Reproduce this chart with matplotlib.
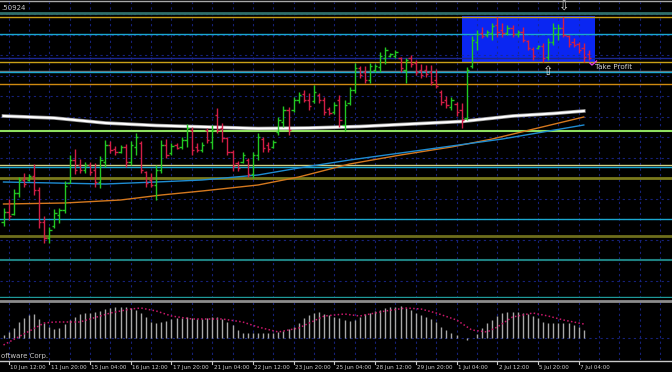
import matplotlib
matplotlib.use("Agg")
import matplotlib.pyplot as plt
from matplotlib.collections import LineCollection
from matplotlib.patches import Rectangle
from matplotlib.lines import Line2D
import numpy as np

# H4 bars (prices)
highs = [1.4886, 1.4895, 1.4905, 1.4917, 1.4921, 1.4920, 1.4930, 1.4907, 1.4878, 1.4867,
         1.4885, 1.4886, 1.4913, 1.4939, 1.4945, 1.4935, 1.4932, 1.4932, 1.4931, 1.4938,
         1.4954, 1.4953, 1.4948, 1.4949, 1.4950, 1.4953, 1.4961, 1.4953, 1.4923, 1.4921,
         1.4929, 1.4954, 1.4955, 1.4951, 1.4951, 1.4957, 1.4970, 1.4967, 1.4951, 1.4952,
         1.4966, 1.4969, 1.4986, 1.4971, 1.4957, 1.4944, 1.4933, 1.4942, 1.4936, 1.4942,
         1.4961, 1.4957, 1.4952, 1.4954, 1.4977, 1.4988, 1.4987, 1.4997, 1.5002, 1.5004,
         1.5001, 1.5009, 1.5001, 1.4997, 1.4987, 1.4992, 1.4999, 1.4994, 1.5007, 1.5031,
         1.5028, 1.5028, 1.5031, 1.5030, 1.5042, 1.5047, 1.5041, 1.5044, 1.5037, 1.5036,
         1.5039, 1.5034, 1.5030, 1.5029, 1.5029, 1.5025, 1.5004, 1.4998, 1.4997, 1.4992,
         1.4991, 1.5027, 1.5058, 1.5064, 1.5067, 1.5064, 1.5071, 1.5077, 1.5071, 1.5069,
         1.5069, 1.5064, 1.5067, 1.5054, 1.5047, 1.5049, 1.5051, 1.5056, 1.5071, 1.5070,
         1.5077, 1.5059, 1.5056, 1.5052, 1.5051, 1.5044]
lows = [1.4868, 1.4874, 1.4879, 1.4897, 1.4907, 1.4913, 1.4899, 1.4866, 1.4851, 1.4851,
        1.4866, 1.4871, 1.4881, 1.4911, 1.4920, 1.4921, 1.4921, 1.4919, 1.4907, 1.4906,
        1.4927, 1.4941, 1.4939, 1.4941, 1.4927, 1.4929, 1.4939, 1.4921, 1.4907, 1.4907,
        1.4894, 1.4921, 1.4936, 1.4939, 1.4945, 1.4945, 1.4947, 1.4939, 1.4942, 1.4942,
        1.4951, 1.4945, 1.4961, 1.4952, 1.4939, 1.4923, 1.4923, 1.4931, 1.4917, 1.4916,
        1.4934, 1.4942, 1.4942, 1.4946, 1.4959, 1.4967, 1.4959, 1.4982, 1.4991, 1.4992,
        1.4984, 1.4991, 1.4991, 1.4979, 1.4979, 1.4980, 1.4967, 1.4963, 1.4989, 1.5001,
        1.5016, 1.5011, 1.5011, 1.5022, 1.5022, 1.5030, 1.5037, 1.5036, 1.5022, 1.5011,
        1.5027, 1.5019, 1.5016, 1.5017, 1.5009, 1.5006, 1.4989, 1.4986, 1.4984, 1.4978,
        1.4966, 1.4974, 1.5026, 1.5044, 1.5056, 1.5057, 1.5054, 1.5057, 1.5057, 1.5059,
        1.5057, 1.5057, 1.5052, 1.5044, 1.5034, 1.5045, 1.5032, 1.5034, 1.5049, 1.5054,
        1.5057, 1.5047, 1.5047, 1.5041, 1.5032, 1.5034]
opens = [1.4872, 1.4882, 1.4880, 1.4901, 1.4914, 1.4914, 1.4918, 1.4904, 1.4872, 1.4856,
         1.4868, 1.4879, 1.4884, 1.4911, 1.4934, 1.4929, 1.4924, 1.4929, 1.4924, 1.4912,
         1.4932, 1.4949, 1.4945, 1.4942, 1.4947, 1.4932, 1.4947, 1.4951, 1.4922, 1.4914,
         1.4909, 1.4924, 1.4949, 1.4941, 1.4949, 1.4947, 1.4954, 1.4964, 1.4947, 1.4944,
         1.4964, 1.4952, 1.4979, 1.4966, 1.4956, 1.4942, 1.4931, 1.4932, 1.4934, 1.4920,
         1.4939, 1.4955, 1.4949, 1.4947, 1.4962, 1.4972, 1.4984, 1.4984, 1.4994, 1.5000,
         1.4994, 1.4993, 1.4999, 1.4994, 1.4985, 1.4982, 1.4994, 1.4969, 1.4991, 1.5004,
         1.5026, 1.5022, 1.5014, 1.5024, 1.5027, 1.5036, 1.5038, 1.5038, 1.5036, 1.5024,
         1.5036, 1.5031, 1.5024, 1.5024, 1.5022, 1.5014, 1.5002, 1.4994, 1.4987, 1.4990,
         1.4984, 1.4976, 1.5028, 1.5052, 1.5061, 1.5059, 1.5061, 1.5069, 1.5064, 1.5061,
         1.5066, 1.5060, 1.5062, 1.5053, 1.5045, 1.5046, 1.5048, 1.5037, 1.5052, 1.5060,
         1.5066, 1.5058, 1.5052, 1.5050, 1.5046, 1.5040]
closes = [1.4882, 1.4878, 1.4901, 1.4914, 1.4910, 1.4918, 1.4904, 1.4872, 1.4856, 1.4864,
          1.4881, 1.4884, 1.4908, 1.4934, 1.4924, 1.4924, 1.4929, 1.4922, 1.4912, 1.4934,
          1.4949, 1.4944, 1.4942, 1.4947, 1.4932, 1.4949, 1.4957, 1.4924, 1.4911, 1.4909,
          1.4924, 1.4949, 1.4939, 1.4948, 1.4946, 1.4954, 1.4966, 1.4944, 1.4944, 1.4949,
          1.4954, 1.4964, 1.4964, 1.4956, 1.4942, 1.4928, 1.4926, 1.4939, 1.4920, 1.4939,
          1.4957, 1.4946, 1.4945, 1.4952, 1.4974, 1.4984, 1.4964, 1.4994, 1.4999, 1.4994,
          1.4988, 1.5002, 1.4994, 1.4982, 1.4981, 1.4989, 1.4974, 1.4989, 1.5004, 1.5026,
          1.5019, 1.5014, 1.5028, 1.5028, 1.5038, 1.5044, 1.5040, 1.5042, 1.5026, 1.5034,
          1.5030, 1.5022, 1.5019, 1.5020, 1.5012, 1.5008, 1.4992, 1.4989, 1.4994, 1.4982,
          1.4974, 1.5024, 1.5054, 1.5060, 1.5058, 1.5062, 1.5068, 1.5062, 1.5061, 1.5066,
          1.5060, 1.5062, 1.5054, 1.5046, 1.5038, 1.5048, 1.5036, 1.5052, 1.5066, 1.5066,
          1.5059, 1.5050, 1.5049, 1.5044, 1.5037, 1.5036]

# moving averages, sampled at bar indices
ma_slow_idx = [0, 10, 20, 30, 40, 50, 60, 70, 80, 90, 100, 108, 114]
ma_slow = [1.4978, 1.4976, 1.4971, 1.49685, 1.4967, 1.49655, 1.4966, 1.49675, 1.4970,
           1.49725, 1.4978, 1.49805, 1.4983]
ma_orange_idx = [0, 12, 23, 31, 39, 50, 58, 68, 78, 88, 96, 105, 114]
ma_orange = [1.4890, 1.4891, 1.4894, 1.4899, 1.4903, 1.4909, 1.4917, 1.4930, 1.4939,
             1.4947, 1.4955, 1.4966, 1.4977]
ma_blue_idx = [0, 10, 20, 30, 39, 50, 58, 68, 78, 88, 98, 106, 114]
ma_blue = [1.4912, 1.4911, 1.4910, 1.4912, 1.4914, 1.4919, 1.4926, 1.4934, 1.4941,
           1.4948, 1.4955, 1.4962, 1.4969]

# horizontal levels drawn on the chart
levels = [1.5081, 1.5077, 1.5060, 1.5036, 1.5032, 1.5023, 1.5022, 1.5010, 1.4963,
          1.4929, 1.4927, 1.4916, 1.4875, 1.4858, 1.4834, 1.4797]
level_colors = ['#2f6f6a', '#c8a018', '#1aa8d0', '#1c2890', '#c8a018', '#707070',
                '#1aa8d0', '#d08a10', '#8ee060', '#d0d080', '#1aa8d0', '#7a7a1c',
                '#1aa8d0', '#6e6e1c', '#1e8080', '#1e9a9a']
level_widths = [2, 1, 1, 1, 1, 1, 1, 1, 1.5, 1, 1, 2, 1, 2, 1.5, 1]

# oscillator panel
osc_hist = [3, 6,
            10, 16, 20, 23, 24, 19, 15, 11, 9, 10,
            14, 18, 21, 24, 25, 25, 26, 27, 29, 30,
            31, 31, 31, 30, 28, 25, 21, 16, 15, 16,
            17, 19, 20, 20, 21, 20, 19, 19, 20, 21,
            21, 19, 16, 13, 8,
            5, 5, 5, 5, 5, 5, 5, 6, 7, 9, 11, 15,
            20, 23, 25, 26, 24, 23, 21, 20, 18, 17,
            18, 21, 24, 25, 27, 28, 30, 31, 31, 32,
            30, 28, 25, 23, 21, 19, 16, 11, 8, 5,
            3, 0, -2, 0, 4, 10, 15, 18, 22, 25,
            26, 26, 26, 25, 24, 22, 20, 16, 15, 15,
            15, 15, 15, 13, 11, 8]
osc_sig_idx = [0, 4, 8, 10, 15, 21, 25, 27, 30, 33, 37, 43, 47, 50, 54, 58, 63, 67, 70,
               75, 79, 82, 85, 89, 92, 95, 97, 100, 104, 107, 110, 114]
osc_sig = [-7, 4, 15, 16, 16, 25, 29, 30, 27, 22, 19, 19, 16, 11, 6, 10, 22, 24, 22,
           27, 30, 29, 25, 18, 8, 6, 11, 21, 25, 22, 18, 14]

date_labels = ["10 Jun 12:00", "11 Jun 20:00", "15 Jun 04:00", "16 Jun 12:00",
               "17 Jun 20:00", "21 Jun 04:00", "22 Jun 12:00", "23 Jun 20:00",
               "25 Jun 04:00", "28 Jun 12:00", "29 Jun 20:00", "1 Jul 04:00",
               "2 Jul 12:00", "5 Jul 20:00", "7 Jul 04:00"]

W, H = 672, 372
fig = plt.figure(figsize=(6.72, 3.72), dpi=100, facecolor='black')
xmin, xmax = -0.688, 131.33

ax = fig.add_axes([0, 1 - 298 / H, 1, 296 / H], facecolor='black')
ax.set_xlim(xmin, xmax)
ax.set_ylim(1.4796, 1.5092)
ax.axis('off')

grid_kw = dict(color='#1a2890', lw=0.8, linestyle=(0, (2, 3)), alpha=0.85, zorder=1)
for gx in range(1, 132, 4):
    ax.axvline(gx, **grid_kw)
for k in range(14):
    ax.axhline(1.5080 - 0.00205 * k, **grid_kw)

# blue rectangle object
ax.add_patch(Rectangle((90.1, 1.5032), 26.1, 0.0046, facecolor='#0a26f2',
                       edgecolor='none', zorder=0.5))

for lv, c, w in zip(levels, level_colors, level_widths):
    ax.axhline(lv, color=c, lw=w, zorder=2)

ax.plot(ma_orange_idx, ma_orange, color='#d4781e', lw=1, zorder=3)
ax.plot(ma_blue_idx, ma_blue, color='#1e8cd2', lw=1, zorder=3)
ax.plot(ma_slow_idx, ma_slow, color='#9a9a9a', lw=2.6, zorder=3)
ax.plot(ma_slow_idx, ma_slow, color='white', lw=1.5, zorder=3.1)

segs, cols = [], []
for i, (o, h, l, c) in enumerate(zip(opens, highs, lows, closes)):
    col = '#22c822' if c >= o else '#d21e46'
    segs += [[(i, l), (i, h)], [(i - 0.45, o), (i, o)], [(i, c), (i + 0.45, c)]]
    cols += [col] * 3
ax.add_collection(LineCollection(segs, colors=cols, linewidths=1, zorder=4))

ax.text(110.1, 1.5093, "\u21e9", color='#d8d8d8', fontsize=9, ha='center',
        va='top', zorder=5)
ax.text(107.0, 1.5023, "\u21e7", color='#d8d8d8', fontsize=9, ha='center',
        va='center', zorder=5)
ax.plot([115.2, 115.6, 116.5], [1.5031, 1.5029, 1.5033], color='#e040e0', lw=1, zorder=5)
ax.text(116.2, 1.5027, "Take Profit", color='#d0d0d0', fontsize=5.2, ha='left',
        va='center', zorder=5)
ax.text(-0.5, 1.5086, ".50924", color='#c8c8c8', fontsize=5, ha='left', va='center')

# oscillator axes
ax2 = fig.add_axes([0, 1 - 360 / H, 1, 58 / H], facecolor='black')
ax2.set_xlim(xmin, xmax)
ax2.set_ylim(-22, 36)
ax2.axis('off')
for gx in range(1, 132, 4):
    ax2.axvline(gx, **grid_kw)
ax2.axhline(0, **grid_kw)
ax2.vlines(range(len(osc_hist)), 0, osc_hist, color='#a8a8a8', lw=1, zorder=3)
ax2.plot(osc_sig_idx, osc_sig, color='#c8186a', lw=1.1, linestyle=(0, (1, 1.5)), zorder=4)
ax2.text(-0.5, -18, "oftware Corp.", color='#c8c8c8', fontsize=5, ha='left', va='center')

# frame lines
for yy, c, w in [(1, '#a8a8a8', 1), (301, '#8c8c8c', 2), (361, '#c8c8c8', 1)]:
    fig.add_artist(Line2D([0, 1], [1 - yy / H] * 2, color=c, lw=w))

for k, lab in enumerate(date_labels):
    xpx = 3.5 + 5.09 * (1 + 8 * k)
    fig.add_artist(Line2D([xpx / W] * 2, [1 - 361 / H, 1 - 364 / H], color='#c8c8c8', lw=0.8))
    fig.text(xpx / W + 0.002, 1 - 367 / H, lab, color='#d0d0d0', fontsize=4.1,
             ha='left', va='center')

fig.savefig("out.png", dpi=100, facecolor='black')
